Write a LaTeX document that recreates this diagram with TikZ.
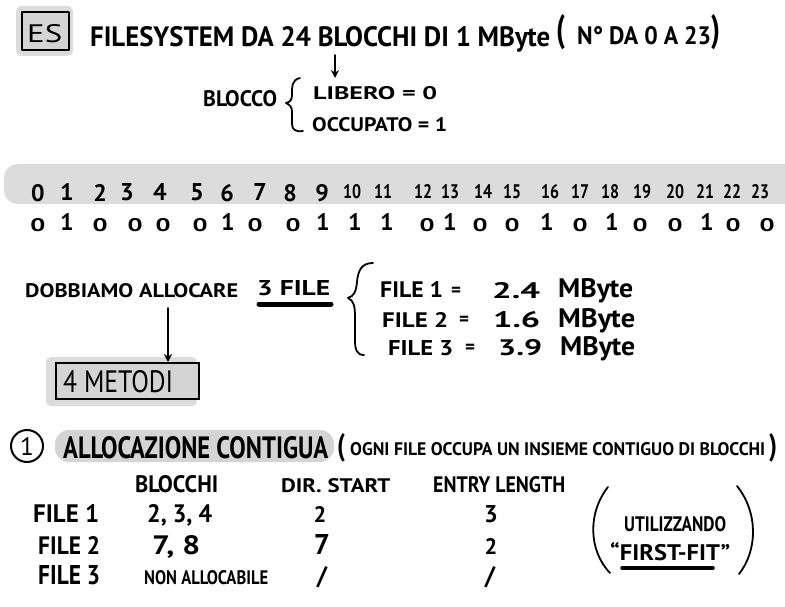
\documentclass[tikz,border=0pt]{standalone}
\usepackage{fontspec}
\setmainfont{PT Sans}
\usepackage{graphicx}
\usetikzlibrary{arrows.meta}
\definecolor{hl}{HTML}{DCDCDC}
\definecolor{hlb}{HTML}{D4D4D4}
\newcommand{\tx}[3]{\resizebox{#1}{#2}{#3}}
\tikzset{
  txt/.style={inner sep=0pt, anchor=base west, font=\bfseries},
  txc/.style={inner sep=0pt, anchor=base, font=\bfseries},
  ink/.style={line width=1.8pt, line cap=round, line join=round},
  arr/.style={ink, -{Stealth[length=8pt,width=8pt]}},
}
\begin{document}
\begin{tikzpicture}[x=1pt,y=-1pt]
\useasboundingbox (0,0) rectangle (785,607);
% ---------- header ----------
\fill[hl, rounded corners=6pt] (16,6) rectangle (73,56);
\draw[ink, fill=hlb] (22,12) rectangle (69,50);
\node[txt] (es) at (27,43) {\mdseries\tx{35pt}{18pt}{ES}};
\node[txt] (title) at (90,47) {\tx{460pt}{20pt}{FILESYSTEM DA 24 BLOCCHI DI 1 MByte}};
\node[txt] (tp1) at (556,42) {\tx{9pt}{27pt}{(}};
\node[txt] (tno) at (577,45) {\tx{134pt}{18pt}{N° DA 0 A 23}};
\node[txt] (tp2) at (711,42) {\tx{9pt}{27pt}{)}};
\coordinate (ar1) at (335,55);
\coordinate (ar2) at (335,78);
\draw[arr] (ar1) -- (ar2);
\node[txt] (blocco) at (203,107) {\tx{74pt}{16pt}{BLOCCO}};
\draw[ink] (300,78) .. controls (291,80) and (292,88) .. (292,95)
  .. controls (292,100) and (290,102) .. (286,103)
  .. controls (290,105) and (292,107) .. (292,112) -- (292,124)
  .. controls (292,130) and (296,132) .. (303,131);
\node[txt] (lib) at (313,100) {\tx{124pt}{13pt}{LIBERO = 0}};
\node[txt] (occ) at (312,132) {\tx{135pt}{14pt}{OCCUPATO = 1}};
% ---------- block band ----------
\fill[hl, rounded corners=14pt] (4,164) rectangle (800,204);
\foreach \x [count=\i from 0] in {38,67,100,127,160,197,227,260,290,322}
  {\node[txc] (n\i) at (\x,201) {\tx{!}{17pt}{\i}};}
\foreach \x [count=\i from 10] in {352,383,423,450,483,512,550,580,610,642,675,705,732,760}
  {\node[txc] (n\i) at (\x,199) {\tx{18pt}{14pt}{\i}};}
\foreach \b/\x [count=\i from 0] in {0/38,1/67,0/100,0/135,0/163,0/200,1/228,0/255,0/293,1/323,1/355,1/387,0/427,1/450,0/480,0/512,1/547,0/580,1/612,0/640,0/675,1/707,0/733,0/767}
  {\node[txc] (b\i) at (\x,231) {\ifnum\b=0 \tx{15pt}{13pt}{0}\else\tx{!}{17pt}{1}\fi};}
% ---------- files ----------
\node[txt] (dob) at (25,297) {\tx{213pt}{14pt}{DOBBIAMO ALLOCARE}};
\node[txt] (tre) at (257,295) {\tx{73pt}{15pt}{3 FILE}};
\draw[line width=5pt, line cap=round] (259,304) -- (331,304);
\fill[hl, rounded corners=5pt] (46,357) rectangle (197,406);
\node[draw, line width=2.2pt, fill=hlb, anchor=north west, minimum width=143pt, minimum height=36pt, inner sep=0pt] (met) at (55,362) {};
\node[txt] (metT) at (63,392) {\mdseries\tx{110pt}{22pt}{4 METODI}};
\coordinate (ar3) at (168,308);
\draw[arr] (ar3) -- (met.north -| ar3);
\draw[ink] (373,263) .. controls (362,263) and (358,270) .. (357,282)
  .. controls (356,292) and (354,296) .. (348,298)
  .. controls (354,301) and (355,306) .. (355,318) -- (355,340)
  .. controls (355,350) and (357,355) .. (364,355);
\node[txt] (f1) at (380,298) {\tx{63pt}{16pt}{FILE 1}};
\node[txt] (e1) at (451,296) {\tx{10pt}{!}{=}};
\node[txt] (s1) at (492,298) {\tx{48pt}{16pt}{2.4}};
\node[txt] (m1) at (558,298) {\tx{75pt}{19pt}{MByte}};
\node[txt] (f2) at (382,327) {\tx{66pt}{15pt}{FILE 2}};
\node[txt] (e2) at (459,325) {\tx{10pt}{!}{=}};
\node[txt] (s2) at (493,327) {\tx{47pt}{16pt}{1.6}};
\node[txt] (m2) at (558,327) {\tx{77pt}{19pt}{MByte}};
\node[txt] (f3) at (388,355) {\tx{65pt}{15pt}{FILE 3}};
\node[txt] (e3) at (465,353) {\tx{10pt}{!}{=}};
\node[txt] (s3) at (498,355) {\tx{44pt}{16pt}{3.9}};
\node[txt] (m3) at (560,355) {\tx{75pt}{19pt}{MByte}};
% ---------- allocazione contigua ----------
\node[draw, line width=2pt, circle, minimum size=32pt, inner sep=0pt] (c1) at (27,446) {\tx{!}{18pt}{1}};
\fill[hlb, rounded corners=14pt] (55,430) rectangle (334,462);
\node[txt] (alloc) at (63,458) {\tx{265pt}{22pt}{ALLOCAZIONE CONTIGUA}};
\node[txt] (op1) at (337,455) {\tx{8pt}{22pt}{(}};
\node[txt] (ogni) at (350,455) {\tx{415pt}{13pt}{OGNI FILE OCCUPA UN INSIEME CONTIGUO DI BLOCCHI}};
\node[txt] (op2) at (769,455) {\tx{8pt}{22pt}{)}};
\node[txt] (h1) at (135,492) {\tx{83pt}{17pt}{BLOCCHI}};
\node[txt] (h2) at (281,492) {\tx{109pt}{14pt}{DIR. START}};
\node[txt] (h3) at (433,492) {\tx{132pt}{16pt}{ENTRY LENGTH}};
\node[txt] (r1a) at (33,522) {\tx{66pt}{18pt}{FILE 1}};
\node[txt] (r1b) at (147,522) {\tx{65pt}{18pt}{2, 3, 4}};
\node[txc] (r1c) at (320,522) {\tx{!}{16pt}{2}};
\node[txc] (r1d) at (491,522) {\tx{!}{17pt}{3}};
\node[txt] (r2a) at (38,554) {\tx{62pt}{18pt}{FILE 2}};
\node[txt] (r2b) at (152,554) {\tx{48pt}{19pt}{7, 8}};
\node[txc] (r2c) at (322,554) {\tx{!}{20pt}{7}};
\node[txc] (r2d) at (491,554) {\tx{!}{16pt}{2}};
\node[txt] (r3a) at (38,584) {\tx{62pt}{19pt}{FILE 3}};
\node[txt] (r3b) at (144,584) {\tx{124pt}{14pt}{NON ALLOCABILE}};
\node[txc] (r3c) at (322,584) {\tx{!}{18pt}{/}};
\node[txc] (r3d) at (490,584) {\tx{!}{18pt}{/}};
\draw[ink] (608,487) .. controls (588,512) and (588,550) .. (610,573);
\draw[ink] (737,486) .. controls (758,512) and (758,550) .. (739,574);
\node[txt] (uti) at (624,531) {\tx{102pt}{15pt}{UTILIZZANDO}};
\node[txt] (ff) at (610,560) {\tx{120pt}{18pt}{“FIRST-FIT”}};
\draw[line width=3.5pt, line cap=round] (622,568) -- (713,568);
\end{tikzpicture}
\end{document}
